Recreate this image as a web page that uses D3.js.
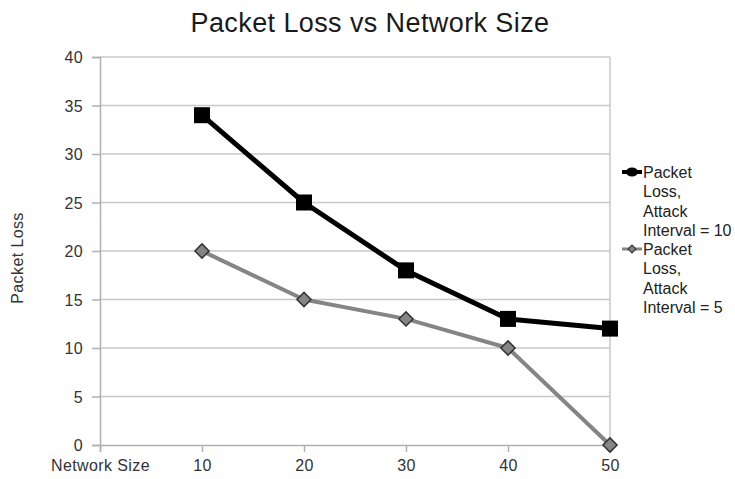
<!DOCTYPE html>
<html><head><meta charset="utf-8">
<script src="https://cdn.jsdelivr.net/npm/d3@7"></script>
<style>body{margin:0;background:#fff;} text{font-family:"Liberation Sans",Arial,sans-serif;}</style>
</head><body>
<svg id="c" width="735" height="479"></svg>
<script>
const categories = ["Network Size", "10", "20", "30", "40", "50"];
const seriesNames = ["Packet Loss, Attack Interval = 10", "Packet Loss, Attack Interval = 5"];
const interval10 = [null, 34, 25, 18, 13, 12];
const interval5 = [null, 20, 15, 13, 10, 0];
const yTicks = [0, 5, 10, 15, 20, 25, 30, 35, 40];

const svg = d3.select("#c");
const x = d3.scalePoint().domain(categories).range([100, 610]);
const y = d3.scaleLinear().domain([0, 40]).range([445, 57]);

// gridlines
svg.append("g").selectAll("line").data(yTicks.filter(d => d > 0)).join("line")
  .attr("x1", 100).attr("x2", 610).attr("y1", d => y(d)).attr("y2", d => y(d))
  .attr("stroke", "#c8c8c8").attr("stroke-width", 1.5);
// right border
svg.append("line").attr("x1", 610).attr("x2", 610).attr("y1", y(40)).attr("y2", y(0))
  .attr("stroke", "#c8c8c8").attr("stroke-width", 1.5);

// y axis
const yAxis = svg.append("g").attr("transform", "translate(100,0)")
  .call(d3.axisLeft(y).tickValues(yTicks).tickSize(8).tickPadding(9));
yAxis.select(".domain").attr("stroke", "#b0b0b0").attr("stroke-width", 1.5);
yAxis.selectAll(".tick line").attr("stroke", "#b0b0b0").attr("stroke-width", 1.5);
yAxis.selectAll("text").attr("font-size", 16).attr("fill", "#333").attr("letter-spacing", 0.4).attr("dy", "0.35em");

// x axis
const xAxis = svg.append("g").attr("transform", `translate(0,${y(0)})`)
  .call(d3.axisBottom(x).tickSize(7).tickPadding(8));
xAxis.select(".domain").attr("stroke", "#b0b0b0").attr("stroke-width", 1.5);
xAxis.selectAll(".tick line").attr("stroke", "#b0b0b0").attr("stroke-width", 1.5);
xAxis.selectAll("text").attr("font-size", 16).attr("fill", "#333").attr("letter-spacing", 0.4);

// lines
const line = d3.line().defined(d => d.v !== null).x(d => x(d.c)).y(d => y(d.v));
const s10 = categories.map((c, i) => ({c, v: interval10[i]}));
const s5 = categories.map((c, i) => ({c, v: interval5[i]}));

svg.append("path").datum(s5).attr("d", line).attr("fill", "none")
  .attr("stroke", "#858585").attr("stroke-width", 4).attr("stroke-linejoin", "round");
svg.append("path").datum(s10).attr("d", line).attr("fill", "none")
  .attr("stroke", "#000").attr("stroke-width", 5).attr("stroke-linejoin", "round");

svg.append("g").selectAll("path").data(s5.filter(d => d.v !== null)).join("path")
  .attr("d", d3.symbol().type(d3.symbolSquare).size(100)())
  .attr("transform", d => `translate(${x(d.c)},${y(d.v)}) rotate(45)`)
  .attr("fill", "#858585").attr("stroke", "#333").attr("stroke-width", 1.5);
svg.append("g").selectAll("rect").data(s10.filter(d => d.v !== null)).join("rect")
  .attr("x", d => x(d.c) - 8).attr("y", d => y(d.v) - 8)
  .attr("width", 16).attr("height", 16).attr("fill", "#000");

// title
svg.append("text").attr("x", 370).attr("y", 32).attr("text-anchor", "middle")
  .attr("font-size", 27).attr("letter-spacing", 0.4).attr("fill", "#1a1a1a").text("Packet Loss vs Network Size");
// y label
svg.append("text").attr("transform", "translate(23,258) rotate(-90)").attr("text-anchor", "middle")
  .attr("font-size", 16).attr("letter-spacing", 0.4).attr("fill", "#333").text("Packet Loss");

// legend
const legendLines = [
  ["Packet", "Loss,", "Attack", "Interval = 10"],
  ["Packet", "Loss,", "Attack", "Interval = 5"]
];
const lg = svg.append("g");
const legendTop = [172, 249];
legendLines.forEach((lines, i) => {
  const cy = legendTop[i];
  lg.append("line").attr("x1", 622).attr("x2", 642).attr("y1", cy).attr("y2", cy)
    .attr("stroke", i === 0 ? "#000" : "#858585").attr("stroke-width", i === 0 ? 4 : 3);
  if (i === 0) {
    lg.append("ellipse").attr("cx", 632).attr("cy", cy).attr("rx", 6).attr("ry", 4.5).attr("fill", "#000");
  } else {
    lg.append("path").attr("d", d3.symbol().type(d3.symbolSquare).size(30)())
      .attr("transform", `translate(632,${cy}) rotate(45)`)
      .attr("fill", "#858585").attr("stroke", "#333").attr("stroke-width", 1.2);
  }
  lines.forEach((t, j) => {
    lg.append("text").attr("x", 643).attr("y", cy + 6 + j * 19.3)
      .attr("font-size", 16).attr("letter-spacing", 0).attr("fill", "#222").text(t);
  });
});
</script>
</body></html>
